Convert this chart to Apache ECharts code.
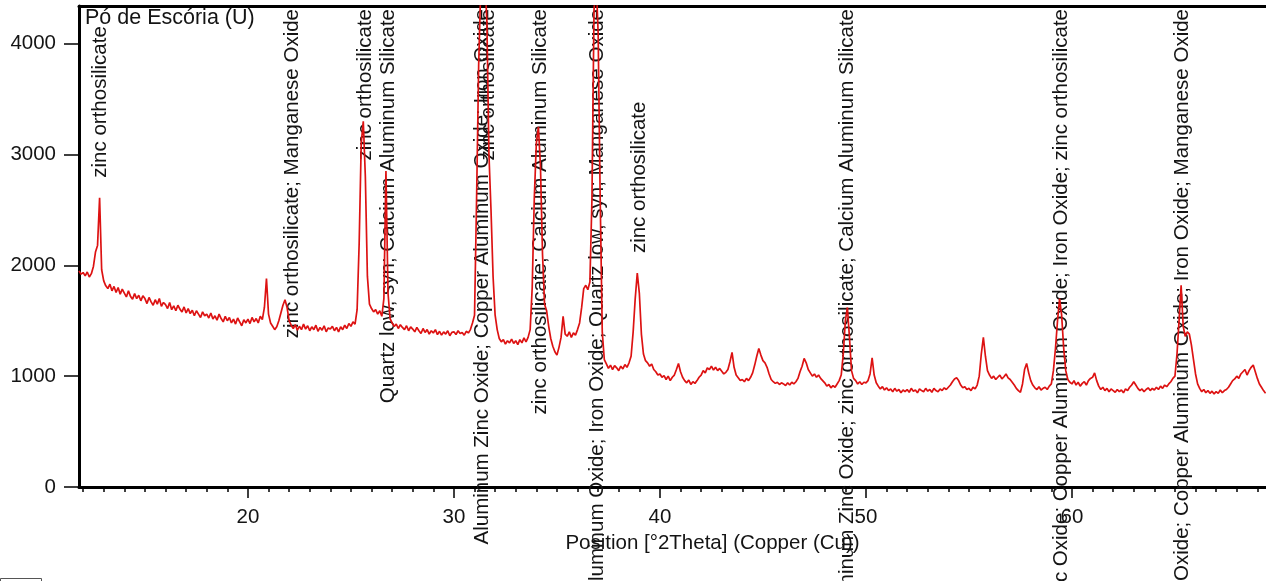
<!DOCTYPE html>
<html>
<head>
<meta charset="utf-8">
<title>Pó de Escória (U)</title>
<script src="https://cdn.jsdelivr.net/npm/echarts@6/dist/echarts.min.js"></script>
<style>
  html, body { margin: 0; padding: 0; background: #ffffff; }
  #chart { width: 1266px; height: 581px; }
</style>
</head>
<body>
<div id="chart"></div>
<script>
// XRD scan: Cu K-alpha, 2Theta from 11.8 deg in 0.1 deg steps
const scanStart = 11.8;
const scanStep = 0.1;
const counts = [
  1950, 1920,
  1935, 1905, 1940, 1895, 1925, 1990, 2120, 2180, 2610, 1960,
  1860, 1815, 1790, 1830, 1770, 1810, 1755, 1800, 1740, 1785,
  1750, 1715, 1770, 1720, 1695, 1745, 1700, 1730, 1680, 1725,
  1700, 1655, 1710, 1670, 1640, 1690, 1650, 1700, 1630, 1665,
  1645, 1610, 1665, 1600, 1635, 1590, 1640, 1605, 1580, 1625,
  1570, 1610, 1565, 1595, 1545, 1590, 1560, 1530, 1580, 1545,
  1560, 1525, 1570, 1515, 1545, 1505, 1560, 1520, 1490, 1540,
  1500, 1530, 1480, 1515, 1470, 1525, 1490, 1455, 1510, 1480,
  1515, 1475, 1530, 1490, 1520, 1480, 1540, 1510, 1620, 1880,
  1560, 1480, 1450, 1420, 1445, 1500, 1570, 1640, 1690, 1620,
  1500, 1460, 1430, 1465, 1415, 1450, 1420, 1470, 1425, 1455,
  1410, 1445, 1420, 1460, 1405, 1440, 1415, 1455, 1400, 1435,
  1425, 1450, 1410, 1440, 1400, 1445, 1420, 1460, 1430, 1475,
  1450, 1490, 1470, 1600, 2200, 3100, 3300, 2800, 1900, 1650,
  1610, 1580, 1600, 1560, 1590, 1540, 1700, 2850, 1750, 1520,
  1480, 1450, 1470, 1430, 1465, 1440, 1420, 1455, 1410, 1445,
  1425, 1400, 1440, 1410, 1385, 1430, 1395, 1420, 1380, 1410,
  1390, 1420, 1375, 1405, 1370, 1400, 1380, 1410, 1365, 1395,
  1400, 1375, 1410, 1385, 1395, 1370, 1405, 1390, 1420, 1480,
  1550, 2600, 3800, 4500, 4600, 4600, 4200, 3000, 2500, 1900,
  1550, 1420, 1340, 1310, 1330, 1290, 1320, 1300, 1335, 1295,
  1320, 1285, 1330, 1300, 1345, 1310, 1350, 1420, 1800, 2600,
  3100, 3250, 2900, 2100, 1650, 1590, 1450, 1340, 1270, 1220,
  1190, 1260, 1350, 1540, 1380, 1360, 1400, 1350, 1390, 1370,
  1420, 1480, 1620, 1790, 1820, 1780, 1850, 2600, 4300, 4600,
  4100, 2600, 1400, 1150, 1110, 1070, 1100, 1060, 1095, 1075,
  1050, 1090, 1065, 1105, 1080, 1120, 1180, 1400, 1700, 1930,
  1750, 1380, 1200, 1140, 1120, 1090, 1110, 1060, 1040, 1010,
  1020,  990, 1005,  970, 1000,  960,  990, 1010, 1060, 1115,
  1040,  990,  960,  940,  965,  925,  950,  935,  960,  990,
  1010, 1050, 1030, 1075, 1060, 1090, 1055, 1080, 1050, 1070,
  1045, 1020, 1035, 1060, 1130, 1215, 1080, 1010,  985,  960,
   970,  950,  980,  960,  990, 1030, 1100, 1180, 1250, 1190,
  1140, 1120, 1080, 1020,  970,  950,  935,  945,  925,  940,
   930,  915,  940,  920,  945,  930,  950,  980, 1040, 1090,
  1160, 1120, 1060, 1030, 1000, 1020,  990, 1010,  980,  960,
   940,  910,  925,  895,  915,  900,  930,  960, 1010, 1200,
  1500, 1620, 1350, 1050,  980,  960,  930,  950,  925,  945,
   940,  960, 1020, 1165, 1010,  940,  910,  885,  905,  875,
   895,  870,  885,  860,  890,  865,  880,  850,  875,  860,
   880,  855,  890,  865,  875,  850,  885,  870,  860,  890,
   865,  880,  855,  890,  870,  860,  885,  870,  895,  880,
   900,  920,  950,  975,  985,  960,  920,  895,  905,  880,
   890,  870,  900,  885,  920, 1000, 1200, 1350, 1180, 1050,
  1010,  980, 1000,  970,  990, 1010,  975,  995, 1020,  985,
   970,  945,  920,  890,  870,  855,  930, 1060, 1115, 1030,
   960,  920,  895,  880,  905,  875,  890,  900,  880,  910,
   930, 1050, 1250, 1500, 1700, 1550, 1250, 1050,  970,  945,
   930,  960,  920,  945,  910,  935,  950,  920,  960,  980,
   990, 1030,  960,  910,  880,  900,  870,  890,  860,  885,
   870,  855,  880,  860,  875,  850,  885,  870,  900,  920,
   950,  920,  890,  870,  885,  860,  880,  895,  870,  890,
   875,  900,  880,  910,  890,  920,  905,  930,  950,  980,
  1000, 1200, 1500, 1820, 1450, 1360, 1400, 1380, 1280, 1150,
  1020,  930,  890,  860,  880,  850,  870,  845,  865,  840,
   860,  845,  875,  850,  870,  880,  900,  930,  960,  975,
  1000,  980, 1020, 1040, 1060, 1010, 1050, 1080, 1100, 1040,
   980,  930,  900,  870,  845
];

// Axis tick values
const xTicks = [20, 30, 40, 50, 60];
const yTicks = [0, 1000, 2000, 3000, 4000];

// Identified phases, one marker per reflection position (2Theta)
const peakTheta = [12.82, 22.15, 25.7, 26.8, 31.36, 31.65, 34.2, 36.94, 38.98, 49.08, 59.5, 65.34];
const peakPhases = [
  'zinc orthosilicate',
  'zinc orthosilicate; Manganese Oxide',
  'zinc orthosilicate',
  'Quartz low, syn; Calcium Aluminum Silicate',
  'Aluminum Zinc Oxide; Copper Aluminum Oxide; Iron Oxide',
  'zinc orthosilicate',
  'zinc orthosilicate; Calcium Aluminum Silicate',
  'Copper Aluminum Oxide; Iron Oxide; Quartz low, syn; Manganese Oxide',
  'zinc orthosilicate',
  'Aluminum Zinc Oxide; zinc orthosilicate; Calcium Aluminum Silicate',
  'Aluminum Zinc Oxide; Copper Aluminum Oxide; Iron Oxide; zinc orthosilicate',
  'Aluminum Zinc Oxide; Copper Aluminum Oxide; Iron Oxide; Manganese Oxide'
];

const sampleName = 'Pó de Escória (U)';
const xAxisName = 'Position [°2Theta] (Copper (Cu))';

const FONT_FAMILY = '"Liberation Sans", Arial, Helvetica, sans-serif';
const FONT_SIZE = 20.5;
const TEXT_COLOR = '#141414';
const X_MIN = 11.8;
const X_MAX = 69.42;
const Y_MAX = 4340;

const scan = counts.map((c, i) => [+(scanStart + i * scanStep).toFixed(2), c]);

const minorTicks = [];
for (let t = Math.ceil(X_MIN); t <= Math.floor(X_MAX); t++) minorTicks.push(t);

// Highest count around a reflection, used to sit its phase label above the peak
function localMax(theta) {
  const k = Math.round((theta - scanStart) / scanStep);
  let m = 0;
  for (let j = k - 1; j <= k + 1; j++) {
    if (j >= 0 && j < counts.length) m = Math.max(m, counts[j]);
  }
  return m;
}

const measureCtx = document.createElement('canvas').getContext('2d');
measureCtx.font = FONT_SIZE + 'px ' + FONT_FAMILY;

const chart = echarts.init(document.getElementById('chart'), null, { renderer: 'canvas' });

const gridBox = { left: 79, right: 0, top: 6, bottom: 94 };

chart.setOption({
  animation: false,
  backgroundColor: '#ffffff',
  title: {
    text: sampleName,
    left: 85,
    top: 7,
    padding: 0,
    textStyle: { fontFamily: FONT_FAMILY, fontSize: 21.5, fontWeight: 'normal', color: TEXT_COLOR }
  },
  grid: [
    Object.assign({ containLabel: false }, gridBox),
    Object.assign({ containLabel: false }, gridBox)
  ],
  xAxis: [
    {
      type: 'value', gridIndex: 0, position: 'bottom',
      min: X_MIN, max: X_MAX,
      axisLine: { show: true, onZero: false, lineStyle: { color: '#000', width: 3 } },
      axisTick: { show: true, customValues: xTicks, length: 11, lineStyle: { color: '#000', width: 1.5 } },
      axisLabel: {
        customValues: xTicks, margin: 20, color: TEXT_COLOR,
        fontFamily: FONT_FAMILY, fontSize: FONT_SIZE,
        formatter: v => String(v)
      },
      splitLine: { show: false },
      name: xAxisName,
      nameLocation: 'middle',
      nameGap: 46,
      nameTextStyle: {
        fontFamily: FONT_FAMILY, fontSize: FONT_SIZE, color: TEXT_COLOR,
        padding: [0, 0, 0, 80]
      }
    },
    {
      // top frame line
      type: 'value', gridIndex: 0, position: 'top',
      min: X_MIN, max: X_MAX,
      axisLine: { show: true, onZero: false, lineStyle: { color: '#000', width: 3 } },
      axisTick: { show: false },
      axisLabel: { show: false },
      splitLine: { show: false }
    },
    {
      // one-degree minor ticks
      type: 'value', gridIndex: 1, position: 'bottom',
      min: X_MIN, max: X_MAX,
      axisLine: { show: false, onZero: false },
      axisTick: { show: true, customValues: minorTicks, length: 5, lineStyle: { color: '#000', width: 1.5 } },
      axisLabel: { show: false },
      splitLine: { show: false }
    }
  ],
  yAxis: [
    {
      type: 'value', gridIndex: 0,
      min: 0, max: Y_MAX,
      axisLine: { show: true, onZero: false, lineStyle: { color: '#000', width: 3 } },
      axisTick: { show: true, customValues: yTicks, length: 15, lineStyle: { color: '#000', width: 1.5 } },
      axisLabel: {
        customValues: yTicks, margin: 23, color: TEXT_COLOR,
        fontFamily: FONT_FAMILY, fontSize: FONT_SIZE,
        formatter: v => String(v)
      },
      splitLine: { show: false }
    },
    {
      type: 'value', gridIndex: 1, min: 0, max: Y_MAX, show: false
    }
  ],
  graphic: [
    {
      type: 'rect',
      shape: { x: 0.5, y: 578.5, width: 41, height: 12 },
      style: { fill: 'none', stroke: '#555', lineWidth: 1 },
      silent: true
    }
  ],
  series: [
    {
      name: 'phases',
      type: 'custom',
      coordinateSystem: 'cartesian2d',
      xAxisIndex: 0, yAxisIndex: 0,
      z: 2,
      silent: true,
      clip: false,
      data: peakTheta.map(t => [t, 0]),
      renderItem: function (params, api) {
        const i = params.dataIndex;
        const theta = api.value(0);
        const text = peakPhases[i];
        const x = api.coord([theta, 0])[0];
        const peakY = api.coord([theta, localMax(theta)])[1];
        const len = measureCtx.measureText(text).width;
        const topLimit = params.coordSys.y + 3;
        const base = Math.max(peakY - 20, topLimit + len);
        return {
          type: 'text',
          x: x,
          y: base,
          rotation: Math.PI / 2,
          style: {
            text: text,
            fontFamily: FONT_FAMILY,
            fontSize: FONT_SIZE,
            fill: TEXT_COLOR,
            align: 'left',
            verticalAlign: 'middle'
          }
        };
      }
    },
    {
      name: 'scan',
      type: 'line',
      xAxisIndex: 0, yAxisIndex: 0,
      z: 3,
      data: scan,
      showSymbol: false,
      symbol: 'none',
      clip: true,
      sampling: null,
      lineStyle: { color: '#dd1212', width: 1.7 }
    }
  ]
});
</script>
</body>
</html>
